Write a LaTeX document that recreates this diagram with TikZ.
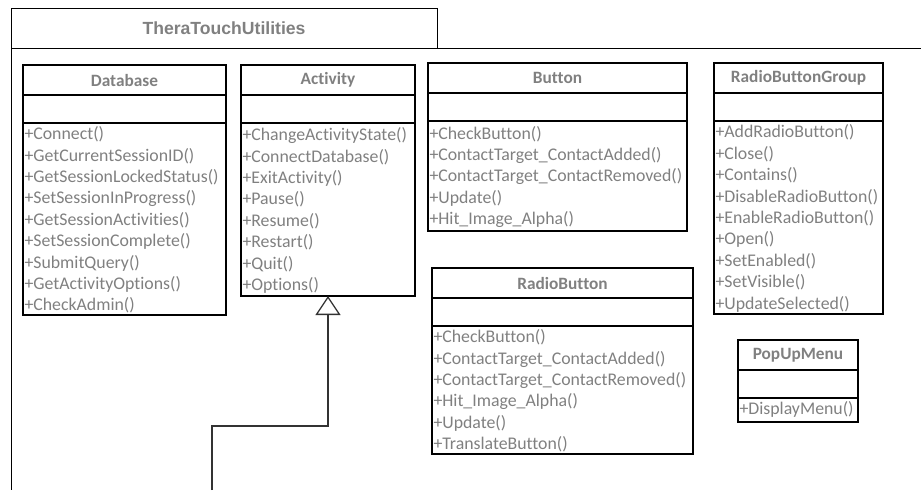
\documentclass[tikz,border=0pt]{standalone}
\usepackage{fontspec}
\setmainfont{Carlito}[Ligatures=NoCommon]
\newfontfamily\pkgfont{Liberation Sans}
\usepackage{xcolor}
\usetikzlibrary{arrows.meta,positioning}

\definecolor{umltext}{RGB}{128,128,128}

\tikzset{
    pkgline/.style={line width=1pt, draw=black},
    pkgtab/.style={draw, line width=1pt, anchor=north west, outer sep=0pt, inner sep=0pt,
        minimum width=426pt, minimum height=40pt, text=umltext,
        font=\pkgfont\bfseries\fontsize{17.6}{20}\selectfont},
    clshead/.style={draw, line width=1.3pt, anchor=north west, outer sep=0pt, inner sep=0pt,
        minimum height=30pt, text=umltext, font=\bfseries\fontsize{17.3}{20}\selectfont},
    clsattr/.style={draw, line width=1.3pt, outer sep=0pt, inner sep=0pt, minimum height=28pt},
    clsops/.style={draw, line width=1.3pt, outer sep=0pt, inner xsep=1.5pt, inner ysep=0pt,
        minimum height=#1, align=left, text=umltext,
        font=\fontsize{17.8}{21.4}\selectfont, execute at begin node=\strut},
    gen/.style={line width=1.3pt, draw=black!80,
        -{Triangle[open, length=19pt, width=25pt, fill=white]}}
}

\begin{document}
\begin{tikzpicture}[x=1pt, y=-1pt]
    \useasboundingbox (0,0) rectangle (921,490);

    % Package frame
    \node[pkgtab] (pkg) at (11,8) {TheraTouchUtilities};
    \coordinate (pkgright) at (921,48);
    \coordinate (pkgfoot) at (11,490);
    \draw[pkgline] (pkgright) -- (pkg.south west) -- (pkgfoot);

    % Class names and empty attribute rows
    \foreach \id/\x/\y/\w/\title in {db/23/65/203/Database, act/241/65/174/Activity,
        btn/428/63/259/Button, rbg/714/63/169/RadioButtonGroup,
        rb/432/268/261/RadioButton, pum/738/340/120/PopUpMenu} {
        \node[clshead, minimum width=\w pt] (\id) at (\x,\y) {\title};
        \node[clsattr, minimum width=\w pt, below=0pt of \id] (\id-attr) {};
    }

    % Operations
    \node[clsops=192pt, text width=200pt, below=0pt of db-attr] (db-ops) {%
        +Connect()\\+GetCurrentSessionID()\\+GetSessionLockedStatus()\\
        +SetSessionInProgress()\\+GetSessionActivities()\\+SetSessionComplete()\\
        +SubmitQuery()\\+GetActivityOptions()\\+CheckAdmin()};
    \node[clsops=173pt, text width=171pt, below=0pt of act-attr] (act-ops) {%
        +ChangeActivityState()\\+ConnectDatabase()\\+ExitActivity()\\+Pause()\\
        +Resume()\\+Restart()\\+Quit()\\+Options()};
    \node[clsops=110pt, text width=256pt, below=0pt of btn-attr] (btn-ops) {%
        +CheckButton()\\+ContactTarget\_ContactAdded()\\+ContactTarget\_ContactRemoved()\\
        +Update()\\+Hit\_Image\_Alpha()};
    \node[clsops=193pt, text width=166pt, below=0pt of rbg-attr] (rbg-ops) {%
        +AddRadioButton()\\+Close()\\+Contains()\\+DisableRadioButton()\\
        +EnableRadioButton()\\+Open()\\+SetEnabled()\\+SetVisible()\\+UpdateSelected()};
    \node[clsops=128pt, text width=258pt, below=0pt of rb-attr] (rb-ops) {%
        +CheckButton()\\+ContactTarget\_ContactAdded()\\+ContactTarget\_ContactRemoved()\\
        +Hit\_Image\_Alpha()\\+Update()\\+TranslateButton()};
    \node[clsops=24pt, text width=117pt, below=0pt of pum-attr] (pum-ops) {%
        +DisplayMenu()};

    % Generalization to Activity
    \coordinate (genfoot) at (212,490);
    \coordinate (genbend) at (212,426);
    \draw[gen] (genfoot) -- (genbend) -| (act-ops.south);
\end{tikzpicture}
\end{document}
